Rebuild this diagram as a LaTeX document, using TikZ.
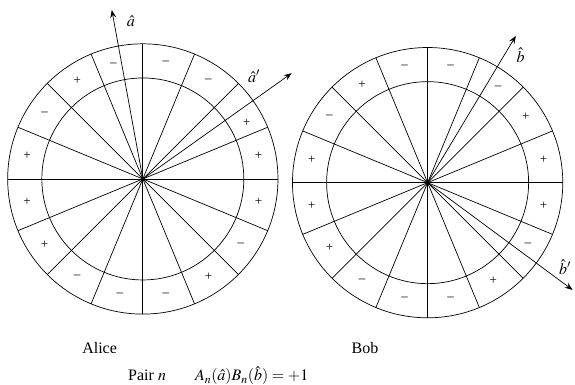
\documentclass[tikz,border=0pt]{standalone}
\usepackage{mathptmx}
\usepackage{fontspec}
\setmainfont{Liberation Serif}
\usetikzlibrary{arrows.meta}

\begin{document}
\begin{tikzpicture}[
  wheel/.style={line width=0.7pt},
  vec/.style={line width=0.7pt, -{Stealth[length=8pt,width=6pt,inset=3pt]}},
  sgn/.style={font=\fontsize{13}{13}\selectfont, inner sep=0pt},
  every node/.style={font=\fontsize{16}{19}\selectfont}
]
\useasboundingbox (0,0) rectangle (20.21,13.53);
\coordinate (A) at (5.02,7.24);
\coordinate (B) at (15.03,7.11);
% Alice wheel
\draw[wheel] (A) circle (4.75) (A) circle (3.55);
\foreach \t in {0,22.5,...,157.5}
  \draw[wheel] (A) ++(\t:4.75) -- ++(\t+180:9.5);
\fill (A) circle (2pt);
\foreach \ang/\s [count=\i] in {11.25/+, 28.4/+, 56.25/\textendash, 78.75/\textendash,
    104.5/\textendash, 123.75/+, 146.25/\textendash, 168.75/+,
    191.25/+, 213.75/+, 236.25/\textendash, 258.75/\textendash,
    281.25/\textendash, 303.75/+, 326.25/\textendash, 348.75/+}
  \node[sgn] (sa\i) at ([shift={(\ang:4.15)}]A) {\s};
% Bob wheel
\draw[wheel] (B) circle (4.75) (B) circle (3.55);
\foreach \t in {0,22.5,...,157.5}
  \draw[wheel] (B) ++(\t:4.75) -- ++(\t+180:9.5);
\fill (B) circle (2pt);
\foreach \ang/\s [count=\i] in {11.25/+, 33.75/+, 53.3/\textendash, 78.75/\textendash,
    101.25/\textendash, 123.75/+, 146.25/\textendash, 168.75/+,
    191.25/+, 213.75/+, 236.25/\textendash, 258.75/\textendash,
    281.25/\textendash, 303.75/+, 328/\textendash, 348.75/+}
  \node[sgn] (sb\i) at ([shift={(\ang:4.15)}]B) {\s};
% measurement directions
\coordinate (ta) at ([shift={(100.4:6.04)}]A);
\coordinate (tap) at ([shift={(35.4:6.42)}]A);
\coordinate (tb) at ([shift={(59:6.02)}]B);
\coordinate (tbp) at ([shift={(-36.5:6.34)}]B);
\draw[vec] (A) -- (ta);
\draw[vec] (A) -- (tap);
\draw[vec] (B) -- (tb);
\draw[vec] (B) -- (tbp);
\node (la) at (4.60,12.80) {$\hat{a}$};
\node (lap) at (8.93,10.85) {$\hat{a}'$};
\node (lb) at (18.30,11.60) {$\hat{b}$};
\node (lbp) at (19.86,4.15) {$\hat{b}'$};
% captions
\node[anchor=base] (alice) at (3.50,1.11) {Alice};
\node[anchor=base] (bob) at (12.83,1.11) {Bob};
\node[anchor=base west, inner sep=0pt] (pair) at (4.50,0.14) {Pair $n$};
\node[anchor=base west, inner sep=0pt] (eq) at (6.85,0.14) {$A_n(\hat{a})B_n(\hat{b})=+1$};
\end{tikzpicture}
\end{document}
